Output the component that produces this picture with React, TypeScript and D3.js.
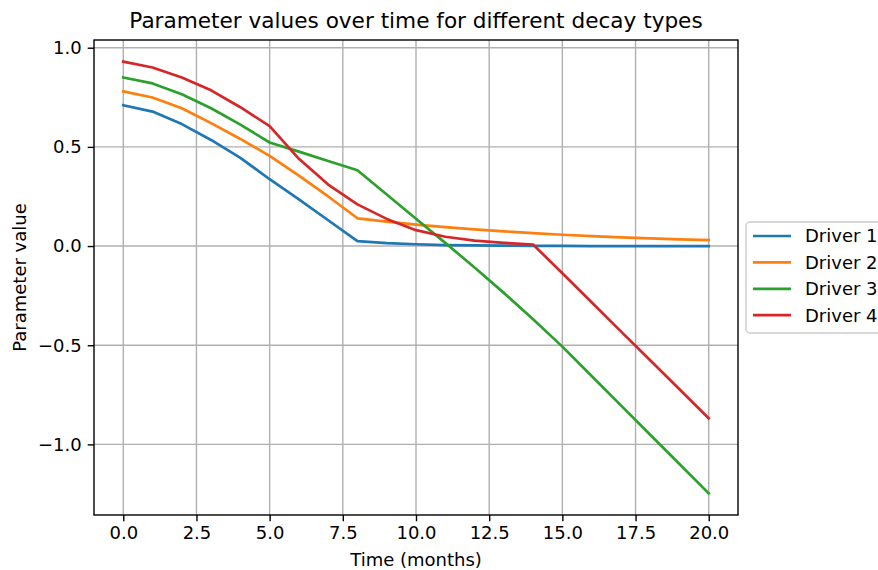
import React, { useEffect, useRef } from 'react';
import * as d3 from 'd3';

const months = [0, 1, 2, 3, 4, 5, 6, 7, 8, 9, 10, 11, 12, 13, 14, 15, 16, 17, 18, 19, 20];
const driver1 = [0.71, 0.678, 0.615, 0.535, 0.445, 0.337, 0.235, 0.13, 0.025, 0.015, 0.009, 0.005, 0.003, 0.002, 0.001, 0.001, 0.0, 0.0, 0.0, 0.0, 0.0];
const driver2 = [0.78, 0.749, 0.695, 0.62, 0.54, 0.455, 0.355, 0.25, 0.14, 0.123, 0.108, 0.095, 0.084, 0.074, 0.065, 0.057, 0.05, 0.044, 0.039, 0.034, 0.03];
const driver3 = [0.85, 0.82, 0.765, 0.695, 0.612, 0.522, 0.476, 0.429, 0.382, 0.26, 0.138, 0.016, -0.108, -0.236, -0.369, -0.507, -0.655, -0.803, -0.951, -1.099, -1.247];
const driver4 = [0.93, 0.9, 0.85, 0.785, 0.7, 0.605, 0.44, 0.31, 0.21, 0.137, 0.08, 0.047, 0.027, 0.016, 0.008, -0.137, -0.283, -0.43, -0.576, -0.722, -0.868];
const seriesNames = ['Driver 1', 'Driver 2', 'Driver 3', 'Driver 4'];
const colors = ['#1f77b4', '#ff7f0e', '#2ca02c', '#d62728'];
const xTicks = [0, 2.5, 5, 7.5, 10, 12.5, 15, 17.5, 20];
const yTicks = [1.0, 0.5, 0.0, -0.5, -1.0];

const App = () => {
  const chartRef = useRef<SVGSVGElement | null>(null);

  useEffect(() => {
    const width = 878;
    const height = 570;
    const font = 'DejaVu Sans, sans-serif';
    const box = { left: 94, right: 738, top: 40, bottom: 515 };

    const svg = d3.select(chartRef.current)
      .attr('width', width)
      .attr('height', height);
    svg.selectAll('*').remove();

    svg.append('rect')
      .attr('width', width)
      .attr('height', height)
      .attr('fill', '#fff');

    const allSeries = [driver1, driver2, driver3, driver4];
    const allVals = allSeries.flat();
    const yLo = d3.min(allVals) as number;
    const yHi = d3.max(allVals) as number;
    const pad = (yHi - yLo) * 0.05;

    const xScale = d3.scaleLinear()
      .domain([-1, 21])
      .range([box.left, box.right]);

    const yScale = d3.scaleLinear()
      .domain([yLo - pad, yHi + pad])
      .range([box.bottom, box.top]);

    // grid
    const grid = svg.append('g');
    grid.selectAll('.vgrid')
      .data(xTicks)
      .enter()
      .append('line')
      .attr('x1', d => xScale(d))
      .attr('x2', d => xScale(d))
      .attr('y1', box.top)
      .attr('y2', box.bottom)
      .attr('stroke', '#b0b0b0')
      .attr('stroke-width', 1.4);
    grid.selectAll('.hgrid')
      .data(yTicks)
      .enter()
      .append('line')
      .attr('x1', box.left)
      .attr('x2', box.right)
      .attr('y1', d => yScale(d))
      .attr('y2', d => yScale(d))
      .attr('stroke', '#b0b0b0')
      .attr('stroke-width', 1.4);

    // lines
    const line = d3.line<number>()
      .x((d, i) => xScale(months[i]))
      .y(d => yScale(d));

    allSeries.forEach((s, i) => {
      svg.append('path')
        .datum(s)
        .attr('d', line)
        .attr('fill', 'none')
        .attr('stroke', colors[i])
        .attr('stroke-width', 2.7)
        .attr('stroke-linejoin', 'round')
        .attr('stroke-linecap', 'square');
    });

    // frame
    svg.append('rect')
      .attr('x', box.left)
      .attr('y', box.top)
      .attr('width', box.right - box.left)
      .attr('height', box.bottom - box.top)
      .attr('fill', 'none')
      .attr('stroke', '#000')
      .attr('stroke-width', 1.4);

    // x axis
    const xAxis = d3.axisBottom(xScale)
      .tickValues(xTicks)
      .tickSize(6.3)
      .tickPadding(5)
      .tickFormat(d => d3.format('.1f')(d as number));
    const gx = svg.append('g')
      .attr('transform', `translate(0, ${box.bottom})`)
      .call(xAxis);
    gx.select('.domain').remove();
    gx.selectAll('.tick line').attr('stroke', '#000').attr('stroke-width', 1.4);
    gx.selectAll('.tick text')
      .attr('font-family', font)
      .attr('font-size', 18)
      .attr('fill', '#000');

    // y axis
    const yAxis = d3.axisLeft(yScale)
      .tickValues(yTicks)
      .tickSize(6.3)
      .tickPadding(6)
      .tickFormat(d => d3.format('.1f')(d as number).replace('-', '\u2212'));
    const gy = svg.append('g')
      .attr('transform', `translate(${box.left}, 0)`)
      .call(yAxis);
    gy.select('.domain').remove();
    gy.selectAll('.tick line').attr('stroke', '#000').attr('stroke-width', 1.4);
    gy.selectAll('.tick text')
      .attr('font-family', font)
      .attr('font-size', 18)
      .attr('fill', '#000');

    // title and labels
    svg.append('text')
      .attr('x', (box.left + box.right) / 2)
      .attr('y', 28)
      .attr('text-anchor', 'middle')
      .attr('font-family', font)
      .attr('font-size', 21.6)
      .attr('fill', '#000')
      .text('Parameter values over time for different decay types');

    svg.append('text')
      .attr('x', (box.left + box.right) / 2)
      .attr('y', 566)
      .attr('text-anchor', 'middle')
      .attr('font-family', font)
      .attr('font-size', 18)
      .attr('fill', '#000')
      .text('Time (months)');

    svg.append('text')
      .attr('transform', `translate(26, ${(box.top + box.bottom) / 2}) rotate(-90)`)
      .attr('text-anchor', 'middle')
      .attr('font-family', font)
      .attr('font-size', 18)
      .attr('fill', '#000')
      .text('Parameter value');

    // legend
    const legend = svg.append('g');
    legend.append('rect')
      .attr('x', 746)
      .attr('y', 222)
      .attr('width', 150)
      .attr('height', 111)
      .attr('rx', 4)
      .attr('fill', '#fff')
      .attr('fill-opacity', 0.8)
      .attr('stroke', '#cccccc')
      .attr('stroke-width', 1.4);

    seriesNames.forEach((name, i) => {
      const y = 236 + i * 26.4;
      legend.append('line')
        .attr('x1', 753)
        .attr('x2', 791)
        .attr('y1', y)
        .attr('y2', y)
        .attr('stroke', colors[i])
        .attr('stroke-width', 2.7);
      legend.append('text')
        .attr('x', 805)
        .attr('y', y)
        .attr('dy', '0.35em')
        .attr('font-family', font)
        .attr('font-size', 18)
        .attr('fill', '#000')
        .text(name);
    });
  }, []);

  return (
    <svg ref={chartRef} style={{ position: 'absolute', left: 0, top: 0 }}></svg>
  );
};

export default App;
